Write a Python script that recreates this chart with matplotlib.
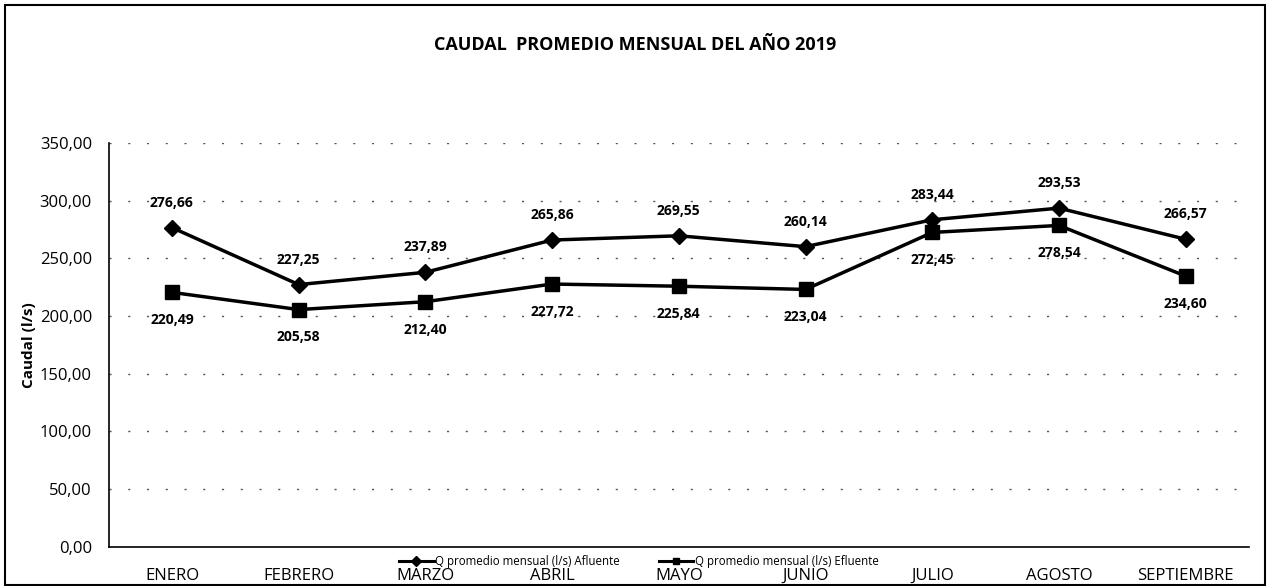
import matplotlib
matplotlib.use("Agg")
import matplotlib.pyplot as plt
from matplotlib.patches import Rectangle

months = ["ENERO", "FEBRERO", "MARZO", "ABRIL", "MAYO", "JUNIO", "JULIO", "AGOSTO", "SEPTIEMBRE"]
afluente = [276.66, 227.25, 237.89, 265.86, 269.55, 260.14, 283.44, 293.53, 266.57]
efluente = [220.49, 205.58, 212.40, 227.72, 225.84, 223.04, 272.45, 278.54, 234.60]
yticks = [0, 50, 100, 150, 200, 250, 300, 350]
title = "CAUDAL  PROMEDIO MENSUAL DEL AÑO 2019"
ylabel = "Caudal (l/s)"
leg_af = "Q promedio mensual (l/s) Afluente"
leg_ef = "Q promedio mensual (l/s) Efluente"

plt.rcParams["font.family"] = ["Open Sans", "DejaVu Sans"]

def fmt(v):
    return f"{v:.2f}".replace(".", ",")

fig = plt.figure(figsize=(12.7, 5.86), dpi=100)
ax = fig.add_axes([0.0855, 0.067, 0.898, 0.689])

x = list(range(len(months)))
l1, = ax.plot(x, afluente, color="black", lw=2.5, marker="D", ms=8, label=leg_af)
l2, = ax.plot(x, efluente, color="black", lw=2.5, marker="s", ms=10, label=leg_ef)

for i, v in enumerate(afluente):
    ax.annotate(fmt(v), (i, v), xytext=(0, 13), textcoords="offset points",
                ha="center", va="bottom", fontsize=10, fontweight="bold")
for i, v in enumerate(efluente):
    ax.annotate(fmt(v), (i, v), xytext=(0, -15), textcoords="offset points",
                ha="center", va="top", fontsize=10, fontweight="bold")

ax.set_xlim(-0.5, len(months) - 0.5)
ax.set_ylim(0, 350)
ax.set_yticks(yticks)
ax.set_yticklabels([fmt(v) for v in yticks], fontsize=12)
ax.set_xticks(x)
ax.set_xticklabels(months, fontsize=12)
ax.tick_params(axis="x", length=0, pad=15)
ax.tick_params(axis="y", length=0, pad=12)
for yv in yticks[1:]:
    ax.axhline(yv, color="#555555", lw=1.0, ls=(0, (1.5, 12)), zorder=0)
for s in ["top", "right"]:
    ax.spines[s].set_visible(False)
ax.spines["left"].set_linewidth(1.2)
ax.spines["bottom"].set_linewidth(1.2)
ax.set_ylabel(ylabel, fontsize=11, fontweight="bold", labelpad=3)

fig.text(0.5, 0.923, title, ha="center", va="center", fontsize=13, fontweight="bold")

leg = fig.legend(handles=[l1, l2], loc="center", bbox_to_anchor=(0.503, 0.041), ncol=2,
                 frameon=False, fontsize=8.3, handlelength=3.0, handletextpad=0.1,
                 columnspacing=3.4, borderaxespad=0, borderpad=0)
for h in leg.legend_handles:
    h.set_markersize(5)
    h.set_linewidth(2.2)

fig.patches.append(Rectangle((0.004, 0.002), 0.992, 0.99, transform=fig.transFigure,
                             fill=False, edgecolor="black", lw=1.5))

fig.savefig("out.png", dpi=100)
